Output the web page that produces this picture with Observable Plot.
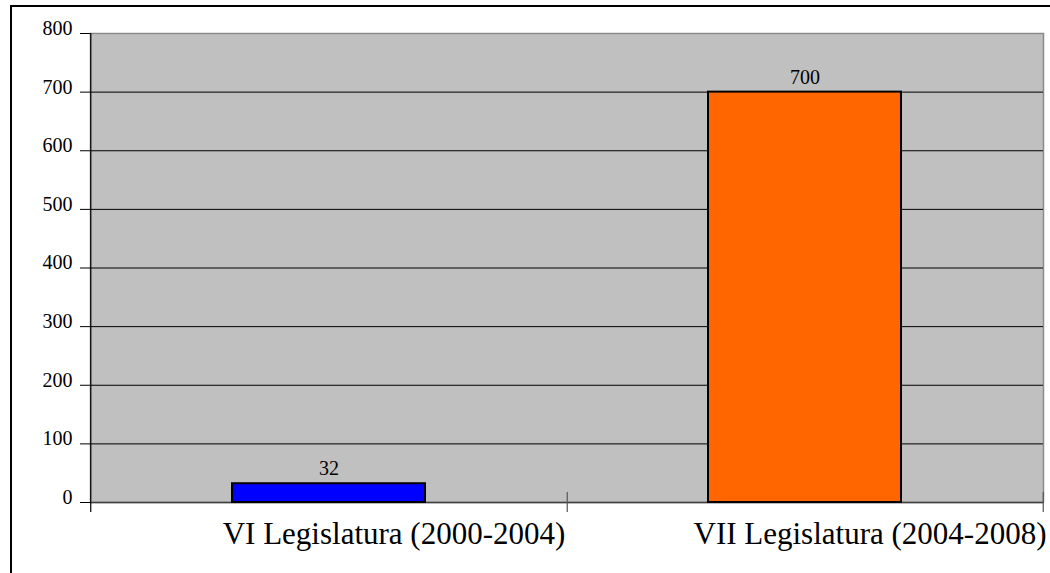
<!DOCTYPE html>
<html>
<head>
<meta charset="utf-8">
<script src="https://cdn.jsdelivr.net/npm/d3@7"></script>
<script src="https://cdn.jsdelivr.net/npm/@observablehq/plot@0.6"></script>
<style>
  html, body { margin: 0; padding: 0; background: #fff; overflow: hidden; }
  #wrap { position: relative; width: 1050px; height: 573px; overflow: hidden; }
  #border { position: absolute; left: 10px; top: 5px; width: 1100px; height: 620px; border: 2.5px solid #000; box-sizing: border-box; pointer-events: none; }
  #chart { position: absolute; left: 0; top: 0; }
</style>
</head>
<body>
<div id="wrap"><div id="chart"></div><div id="border"></div></div>
<script>
const categories = ["VI Legislatura (2000-2004)", "VII Legislatura (2004-2008)"];
const values = [32, 700];
const barColors = ["#0000FF", "#FF6600"];
const yTicks = [0, 100, 200, 300, 400, 500, 600, 700, 800];
const gridTicks = [100, 200, 300, 400, 500, 600, 700];

const data = categories.map((c, i) => ({category: c, value: values[i], color: barColors[i]}));
const font = "'Liberation Serif', 'Times New Roman', serif";
const halfStep = 238.25;

const chart = Plot.plot({
  width: 1050,
  height: 573,
  marginLeft: 90,
  marginRight: 7,
  marginTop: 33,
  marginBottom: 71,
  style: {fontFamily: font, background: "transparent", overflow: "visible"},
  x: {domain: categories, type: "band", paddingInner: 0.595, paddingOuter: 0.2975, axis: null},
  y: {domain: [0, 800], axis: null},
  color: {type: "identity"},
  marks: [
    Plot.frame({fill: "#C0C0C0", stroke: "#8a8a8a", strokeWidth: 1.5}),
    Plot.ruleY(gridTicks, {stroke: "#000", strokeWidth: 1}),
    Plot.ruleY([0], {stroke: "#404040", strokeWidth: 1.5}),
    Plot.barY(data, {x: "category", y: "value", fill: "color", stroke: "#000", strokeWidth: 2}),
    Plot.text(data, {x: "category", y: "value", text: d => String(d.value), dy: -15, fontSize: 20, fill: "#000"}),
    // left axis line (category boundary)
    Plot.ruleX([categories[0]], {dx: -halfStep, stroke: "#000", strokeWidth: 1.2, insetBottom: -10}),
    // boundary tick marks crossing the x axis
    Plot.ruleX(categories, {dx: halfStep, y1: 0, y2: 0, insetTop: -10, insetBottom: -10, stroke: "#555", strokeWidth: 1.2}),
    // y ticks
    Plot.axisY(yTicks, {tickSize: 10, fill: "none", stroke: "#000", label: null}),
    // y labels
    Plot.axisY(yTicks, {tickSize: 0, tickPadding: 18, dy: -5, fontSize: 20, fill: "#000", label: null}),
    // x labels
    Plot.text(categories, {x: d => d, frameAnchor: "bottom", dy: 41, dx: 65, fontSize: 31, fill: "#000"})
  ]
});
document.getElementById("chart").appendChild(chart);
</script>
</body>
</html>
